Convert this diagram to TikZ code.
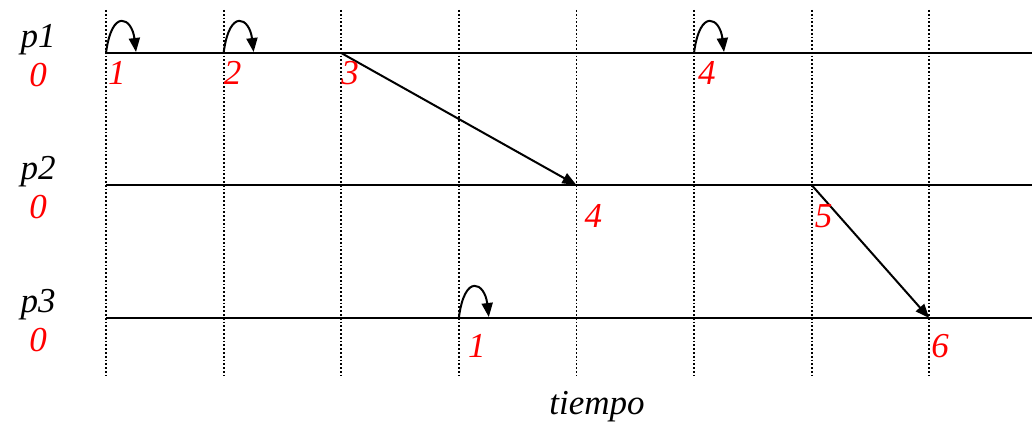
\documentclass[tikz,border=0pt]{standalone}
\usepackage{fontspec}
\setmainfont{Liberation Serif}
\usetikzlibrary{
  calc, % For coordinate calculations
  arrows.meta, % For arrow tips
  positioning
}

\begin{document}
\begin{tikzpicture}[
      x=1pt, y=-1pt, % pixel units, y downward
      proc/.style={line width=1.8pt, black}, % process time lines
      tick/.style={line width=1.8pt, dotted, black}, % time marks
      msg/.style={line width=2pt, -{Triangle[length=14pt,width=11pt]}}, % messages
      evlbl/.style={red, font=\fontsize{35}{37}\selectfont\itshape, inner sep=0pt},
      plbl/.style={black, font=\fontsize{35}{37}\selectfont\itshape, inner sep=0pt},
    ]

    \useasboundingbox (0,0) rectangle (1032,430);

    % Sizes
    \def\dx{117.6}
    \def\xo{106}

    % time marks
    \foreach \i in {0,...,7}
    \draw[tick] (\xo+\i*\dx, 10) -- (\xo+\i*\dx, 376);

    % processes
    \foreach \p/\y in {1/53, 2/185, 3/318} {
      \coordinate (s\p) at (\xo, \y);
      \coordinate (t\p) at (1032, \y);
      \draw[proc] (s\p) -- (t\p);
      \node[plbl] (name\p) at (38, \y-13) {p\p};
      \node[evlbl] (init\p) at (38, \y+22) {0};
    }

    % events
    \coordinate (a1) at (\xo, 53);
    \coordinate (a2) at (\xo+\dx, 53);
    \coordinate (a3) at (\xo+2*\dx, 53);
    \coordinate (a4) at (\xo+5*\dx, 53);
    \coordinate (b4) at (\xo+4*\dx, 185);
    \coordinate (b5) at (\xo+6*\dx, 185);
    \coordinate (c1) at (\xo+3*\dx, 318);
    \coordinate (c6) at (\xo+7*\dx, 318);

    % internal events
    \foreach \e in {a1, a2, a4, c1}
    \draw[msg] (\e) .. controls +(6,-46) and +(-4,-34) .. ++(30,-1);

    % messages
    \draw[msg] (a3) -- (b4);
    \draw[msg] (b5) -- (c6);

    % clocks
    \node[evlbl, anchor=north west] (la1) at ($(a1)+(2,8)$) {1};
    \node[evlbl, anchor=north west] (la2) at ($(a2)+(0,8)$) {2};
    \node[evlbl, anchor=north west] (la3) at ($(a3)+(0,8)$) {3};
    \node[evlbl, anchor=north west] (la4) at ($(a4)+(4,8)$) {4};
    \node[evlbl, anchor=north west] (lb4) at ($(b4)+(8,19)$) {4};
    \node[evlbl, anchor=north west] (lb5) at ($(b5)+(3,19)$) {5};
    \node[evlbl, anchor=north west] (lc1) at ($(c1)+(9,16)$) {1};
    \node[evlbl, anchor=north west] (lc6) at ($(c6)+(2,16)$) {6};

    \node[plbl] (axis) at (597, 407) {tiempo};

  \end{tikzpicture}
\end{document}
